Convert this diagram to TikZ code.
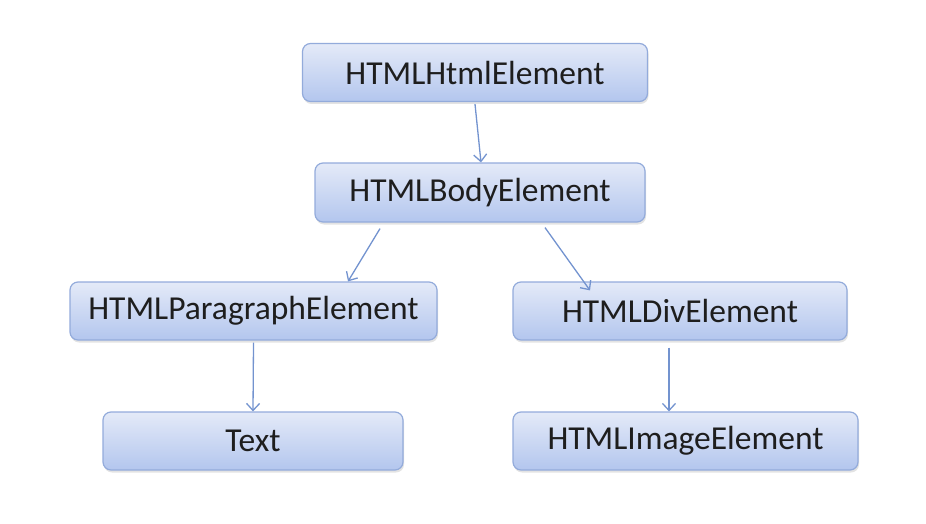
\documentclass[tikz,border=0pt]{standalone}
\usepackage{fontspec}
\setmainfont{Carlito}
\usetikzlibrary{arrows.meta,shadows}
\definecolor{boxtop}{HTML}{E4EAF8}
\definecolor{boxbot}{HTML}{B3C6EE}
\definecolor{boxline}{HTML}{93ABDB}
\definecolor{arrcol}{HTML}{7393CF}
\definecolor{txtcol}{HTML}{1E1E1E}
\tikzset{
  elbox/.style={rounded corners=8pt, draw=boxline, line width=1.2pt,
    top color=boxtop, bottom color=boxbot, inner sep=0pt,
    minimum height=58pt, text=txtcol,
    font=\fontsize{33.5}{38}\selectfont,
    drop shadow={shadow xshift=1pt, shadow yshift=-2.5pt, opacity=0.18, fill=black!60}},
  conn/.style={draw=arrcol, line width=1.3pt, -{Straight Barb[length=7pt,width=13pt,line width=1.3pt]}}
}
\begin{document}
\begin{tikzpicture}[x=1pt,y=-1pt]
\useasboundingbox (0,0) rectangle (926,524);
\node[elbox, minimum width=345pt] (html) at (475,72.5) {HTMLHtmlElement};
\node[elbox, minimum width=330pt, minimum height=59pt] (body) at (480,192.5) {HTMLBodyElement};
\node[elbox, minimum width=367pt] (para) at (253.5,311) {HTMLParagraphElement};
\node[elbox, minimum width=334pt] (div) at (680,311) {HTMLDivElement};
\node[elbox, minimum width=300pt] (text) at (253,441) {Text};
\node[elbox, minimum width=345pt] (image) at (685.5,441) {HTMLImageElement};
\draw[conn] ([yshift=-2pt]html.south) -- ([xshift=1pt]body.north);
\draw[conn] ([xshift=-100pt,yshift=-6pt]body.south) -- ([xshift=94.5pt]para.north);
\draw[conn] ([xshift=65pt,yshift=-5pt]body.south) -- ([xshift=-90pt,yshift=-9pt]div.north);
\draw[conn] ([yshift=-2pt]para.south) -- (text.north);
\draw[conn] ([xshift=-11pt,yshift=-7pt]div.south) -- ([xshift=-16.5pt]image.north);
\end{tikzpicture}
\end{document}
